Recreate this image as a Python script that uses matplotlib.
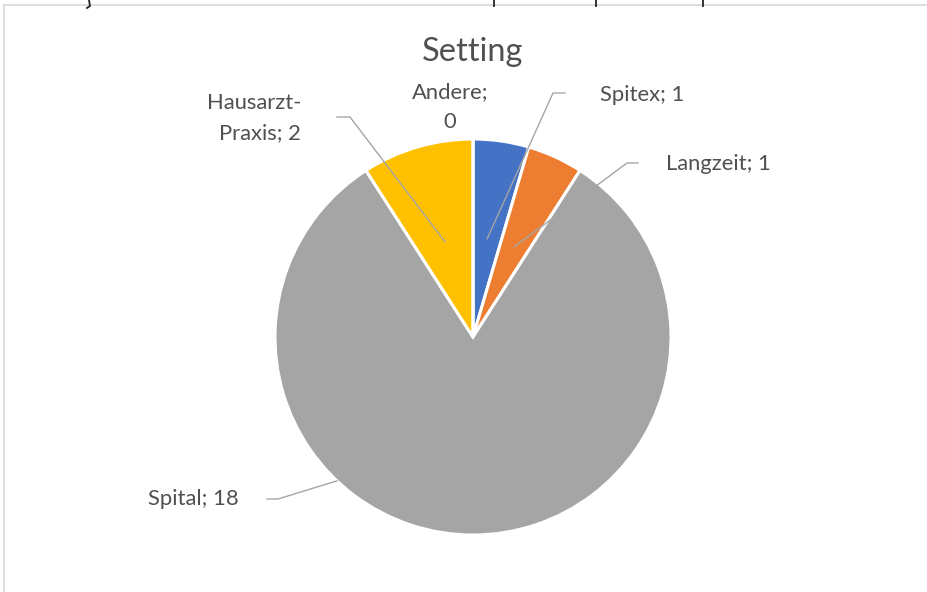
import numpy as np
import matplotlib
matplotlib.use("Agg")
import matplotlib.pyplot as plt
from matplotlib.lines import Line2D

# ---- data ----
categories = ["Spitex", "Langzeit", "Spital", "Hausarzt-\nPraxis", "Andere"]
values = [1, 1, 18, 2, 0]
colors = ["#4472C4", "#ED7D31", "#A5A5A5", "#FFC000", "#7F7F7F"]
title = "Setting"

W, H = 928, 592
fig = plt.figure(figsize=(W / 100, H / 100), dpi=100)
ax = fig.add_axes([0, 0, 1, 1])
ax.set_xlim(0, W)
ax.set_ylim(0, H)
ax.set_aspect("equal")
ax.axis("off")

def Y(y):
    return H - y

cx, cy, R = 473, 337, 198

wedges, _ = ax.pie(values, colors=colors, startangle=90, counterclock=False,
                   center=(cx, Y(cy)), radius=R, frame=True,
                   wedgeprops=dict(edgecolor="white", linewidth=2.2))
ax.set_xlim(0, W)
ax.set_ylim(0, H)
ax.axis("off")

FONT = "Lato"
tcol = "#505050"
lcol = "#A6A6A6"
LFS = 15.8

# title
ax.text(cx, Y(52), title, ha="center", va="center", fontsize=23.5,
        color=tcol, family=FONT)

labels_cfg = {
    0: dict(anchor=None, rfrac=0.5, elbow=(553, 93), end=(565, 93), text=(600, 95), ha="left"),
    1: dict(anchor=None, rfrac=0.5, elbow=(627, 163), end=(638, 163), text=(666, 164), ha="left"),
    2: dict(anchor=226.6, rfrac=1.0, elbow=(278, 499), end=(267, 499), text=(239, 499), ha="right"),
    3: dict(anchor=None, rfrac=0.5, elbow=(350, 117), end=(337, 117), text=(301, 118), ha="right"),
}

for i, w in enumerate(wedges):
    lab = f"{categories[i]}; {values[i]}"
    if i in labels_cfg:
        cfg = labels_cfg[i]
        ang = cfg["anchor"] if cfg["anchor"] is not None else (w.theta1 + w.theta2) / 2
        r = R * cfg["rfrac"]
        ax_ = cx + r * np.cos(np.radians(ang))
        ay_ = Y(cy) + r * np.sin(np.radians(ang))
        ex, ey = cfg["elbow"]
        nx, ny = cfg["end"]
        ax.add_line(Line2D([ax_, ex, nx], [ay_, Y(ey), Y(ny)], color=lcol, lw=1.0))
        tx, ty = cfg["text"]
        ax.text(tx, Y(ty), lab, ha=cfg["ha"], va="center", fontsize=LFS,
                color=tcol, family=FONT, linespacing=1.65,
                multialignment="right" if cfg["ha"] == "right" else "left")
    else:
        ax.text(450, Y(107), f"{categories[i]};\n{values[i]}", ha="center", va="center",
                fontsize=LFS, color=tcol, family=FONT, linespacing=1.6)

# chart border (top and left)
ax.add_line(Line2D([4, W], [Y(5), Y(5)], color="#D9D9D9", lw=1.2))
ax.add_line(Line2D([4, 4], [Y(5), 0], color="#D9D9D9", lw=1.2))

# cut-off glyph remnants at the very top
for x in [494, 596, 703]:
    ax.add_line(Line2D([x, x], [Y(0), Y(6)], color="#222222", lw=1.3))
ax.add_line(Line2D([89, 90, 87], [Y(0), Y(6), Y(8)], color="#222222", lw=1.3))

fig.savefig("out.png", dpi=100)
